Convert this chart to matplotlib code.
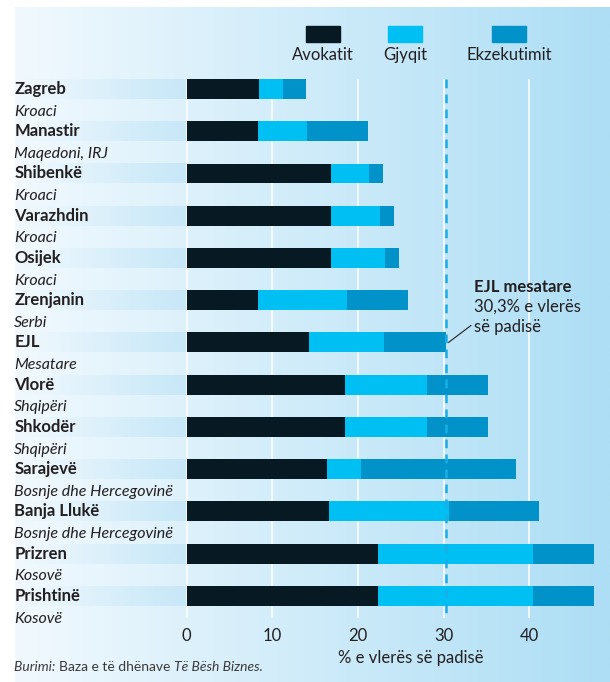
import numpy as np
import matplotlib
matplotlib.use("Agg")
import matplotlib.pyplot as plt
from matplotlib.colors import to_rgb
from matplotlib.patches import Rectangle

plt.rcParams['font.family'] = ['Lato', 'DejaVu Sans']

# ---- data ----
cities = ["Zagreb", "Manastir", "Shibenkë", "Varazhdin", "Osijek", "Zrenjanin", "EJL",
          "Vlorë", "Shkodër", "Sarajevë", "Banja Llukë", "Prizren", "Prishtinë"]
countries = ["Kroaci", "Maqedoni, IRJ", "Kroaci", "Kroaci", "Kroaci", "Serbi", "Mesatare",
             "Shqipëri", "Shqipëri", "Bosnje dhe Hercegovinë", "Bosnje dhe Hercegovinë",
             "Kosovë", "Kosovë"]
avokatit    = [8.5, 8.3, 16.9, 16.9, 16.9, 8.3, 14.3, 18.5, 18.5, 16.4, 16.6, 22.4, 22.4]
gjyqit      = [2.7, 5.7, 4.4, 5.7, 6.3, 10.4, 8.7, 9.6, 9.6, 4.0, 14.0, 18.0, 18.0]
ekzekutimit = [2.7, 7.2, 1.6, 1.6, 1.6, 7.1, 7.3, 7.1, 7.1, 18.1, 10.5, 7.2, 7.2]
series_names = ["Avokatit", "Gjyqit", "Ekzekutimit"]
ejl_avg = 30.3
ticks = [0, 10, 20, 30, 40]

colors = ["#071a24", "#00bff2", "#0092c8"]
txt = "#231f20"

W, H = 610, 682
fig = plt.figure(figsize=(W / 100, H / 100), dpi=100)
ax = fig.add_axes([15 / W, 0, 1 - 15 / W, 1 - 7 / H])

xl = (-20.06, 49.45)
yl = (14.04, -1.94)
ax.set_xlim(*xl)
ax.set_ylim(*yl)
ax.axis("off")

# background gradient
c0 = np.array(to_rgb("#f1f9fe"))
c1 = np.array(to_rgb("#addef5"))
t = np.linspace(0, 1, 256)
grad = c0[None, :] * (1 - t[:, None]) + c1[None, :] * t[:, None]
ax.imshow(grad[None, :, :], extent=[xl[0], xl[1], yl[0], yl[1]], aspect="auto", zorder=0)

y = np.arange(len(cities))
bh = 0.47

# left label bands
band = np.zeros((1, 256, 4))
band[..., :3] = to_rgb("#c8e8f8")
band[..., 3] = np.linspace(0, 1, 256) ** 1.5
for yi in y:
    ax.imshow(band, extent=[xl[0], 0, yi + bh / 2, yi - bh / 2], aspect="auto", zorder=1)

# gridlines
ax.vlines(ticks, -0.24, 12.52, color="white", lw=1.1, zorder=2)
ax.vlines(ejl_avg, -0.24, 12.52, color="#1aaee6", lw=1.8, ls=(0, (3.5, 2.5)), zorder=4)

left = np.zeros(len(cities))
for vals, c in zip([avokatit, gjyqit, ekzekutimit], colors):
    ax.barh(y, vals, left=left, height=bh, color=c, zorder=3)
    left += np.array(vals)

# row labels
for yi, city, ctry in zip(y, cities, countries):
    ax.text(xl[0] - 0.1, yi, city, fontsize=12, fontweight="bold", color=txt, va="center", ha="left")
    ax.text(xl[0] - 0.1, yi + 0.54, ctry, fontsize=11.5, style="italic", color=txt, va="center", ha="left")

# x tick labels and axis label
for tk in ticks:
    ax.text(tk, 12.95, str(tk), fontsize=12, color=txt, ha="center", va="center")
ax.text(26.2, 13.47, "% e vlerës së padisë", fontsize=12, color=txt, ha="center", va="center")

# EJL annotation
ax.text(33.6, 4.68, "EJL mesatare", fontsize=12, fontweight="bold", color=txt, va="center")
ax.text(33.6, 5.16, "30,3% e vlerës", fontsize=12, color=txt, va="center")
ax.text(33.6, 5.63, "së padisë", fontsize=12, color=txt, va="center")
ax.plot([30.6, 33.2], [6.0, 5.6], color=txt, lw=0.8, zorder=5)

# legend
leg_x = [323, 405, 509]
for lx, name, c in zip(leg_x, series_names, colors):
    fig.patches.append(Rectangle(((lx - 17) / W, 1 - 42 / H), 34 / W, 16 / H,
                                 transform=fig.transFigure, color=c, zorder=5))
    fig.text(lx / W, 1 - 55 / H, name, fontsize=12, color=txt, ha="center", va="center")

# source line, pieces placed one after another
renderer = fig.canvas.get_renderer()
sx = 14
for part, st in [("Burimi: ", "italic"), ("Baza e të dhënave ", "normal"), ("Të Bësh Biznes.", "italic")]:
    tt = fig.text(sx / W, 1 - 667 / H, part, fontsize=10, style=st, color="#3a3a3a", va="center")
    sx += tt.get_window_extent(renderer).width

fig.savefig("out.png", dpi=100)
